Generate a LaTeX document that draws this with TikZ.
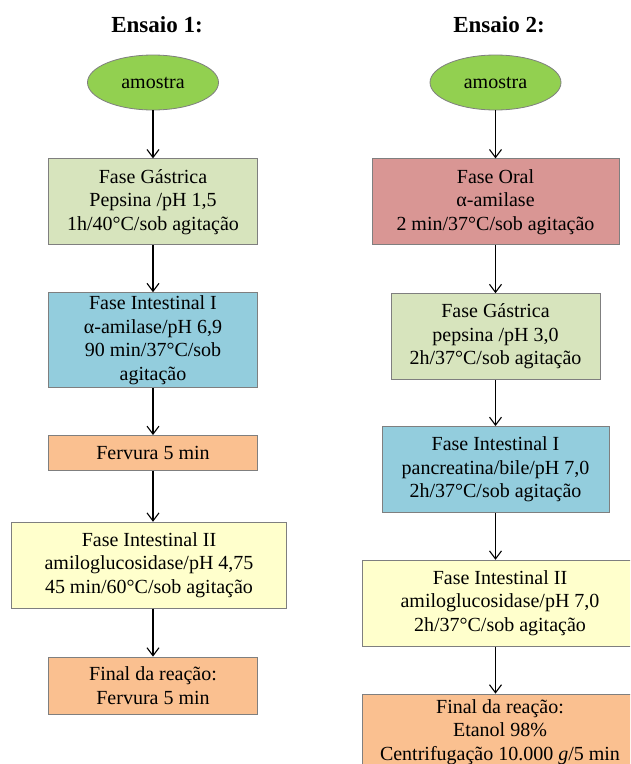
\documentclass[tikz,border=0pt]{standalone}
\usepackage{fontspec}
\setmainfont{Liberation Serif}
\usetikzlibrary{
    shapes.geometric,
    arrows.meta,
    positioning
}

\definecolor{amostraverde}{HTML}{92D050}
\definecolor{gastrico}{HTML}{D7E4BD}
\definecolor{oral}{HTML}{D99694}
\definecolor{intestino}{HTML}{93CDDD}
\definecolor{fervura}{HTML}{FAC090}
\definecolor{amarelo}{HTML}{FFFFCC}
\definecolor{borda}{HTML}{7F7F7F}

\begin{document}
\begin{tikzpicture}[
    x=1pt, y=1pt,
    node distance=47pt,
    font=\fontsize{20}{23.5}\selectfont,
    title/.style={font=\fontsize{23}{26}\selectfont\bfseries},
    inicio/.style={ellipse, minimum width=131pt, minimum height=55pt, inner sep=0pt,
                   draw=borda, line width=0.8pt, fill=amostraverde},
    fase/.style={rectangle, minimum height=86pt, inner sep=0pt,
                 align=center, draw=borda, line width=0.8pt},
    seta/.style={line width=1.1pt, -{Straight Barb[length=8pt, width=12pt, line width=1.1pt]}}
]

    \useasboundingbox (0,0) rectangle (630,-764);
    \clip (0,0) rectangle (630,-764);

    % Ensaio 1
    \node (tit1) [title] at (157,-25) {Ensaio 1:};
    \node (amostra1) [inicio] at (153,-82.5) {amostra};
    \node (gastrica1) [fase, fill=gastrico, minimum width=209pt, below=48pt of amostra1]
        {Fase Gástrica\\Pepsina /pH 1,5\\1h/40°C/sob agitação};
    \node (intI1) [fase, fill=intestino, minimum width=209pt, minimum height=95pt, below=of gastrica1]
        {Fase Intestinal I\\α-amilase/pH 6,9\\90 min/37°C/sob\\agitação};
    \node (ferv1) [fase, fill=fervura, minimum width=209pt, minimum height=35pt, below=of intI1]
        {Fervura 5 min};
    \node (intII1) [fase, fill=amarelo, minimum width=275pt, below=51pt of ferv1, xshift=-4pt]
        {Fase Intestinal II\\amiloglucosidase/pH 4,75\\45 min/60°C/sob agitação};
    \node (final1) [fase, fill=fervura, minimum width=209pt, minimum height=57pt, below=48pt of intII1, xshift=4pt]
        {Final da reação:\\Fervura 5 min};

    % Ensaio 2
    \node (tit2) [title] at (499,-25) {Ensaio 2:};
    \node (amostra2) [inicio] at (495.5,-82.5) {amostra};
    \node (oral2) [fase, fill=oral, minimum width=247pt, below=48pt of amostra2]
        {Fase Oral\\α-amilase\\2 min/37°C/sob agitação};
    \node (gastrica2) [fase, fill=gastrico, minimum width=209pt, below=48pt of oral2]
        {Fase Gástrica\\pepsina /pH 3,0\\2h/37°C/sob agitação};
    \node (intI2) [fase, fill=intestino, minimum width=227pt, below=46pt of gastrica2]
        {Fase Intestinal I\\pancreatina/bile/pH 7,0\\2h/37°C/sob agitação};
    \node (intII2) [fase, fill=amarelo, minimum width=276pt, below=of intI2, xshift=4.5pt]
        {Fase Intestinal II\\amiloglucosidase/pH 7,0\\2h/37°C/sob agitação};
    \node (final2) [fase, fill=fervura, minimum width=276pt, minimum height=76pt, below=of intII2]
        {Final da reação:\\Etanol 98\%\\Centrifugação 10.000 \textit{g}/5 min};

    % Setas
    \draw [seta] (amostra1) -- (gastrica1);
    \draw [seta] (gastrica1) -- (intI1);
    \draw [seta] (intI1) -- (ferv1);
    \draw [seta] (ferv1) -- (ferv1 |- intII1.north);
    \draw [seta] (ferv1 |- intII1.south) -- (final1);

    \draw [seta] (amostra2) -- (oral2);
    \draw [seta] (oral2) -- (gastrica2);
    \draw [seta] (gastrica2) -- (intI2);
    \draw [seta] (intI2) -- (intI2 |- intII2.north);
    \draw [seta] (intI2 |- intII2.south) -- (intI2 |- final2.north);

\end{tikzpicture}
\end{document}
